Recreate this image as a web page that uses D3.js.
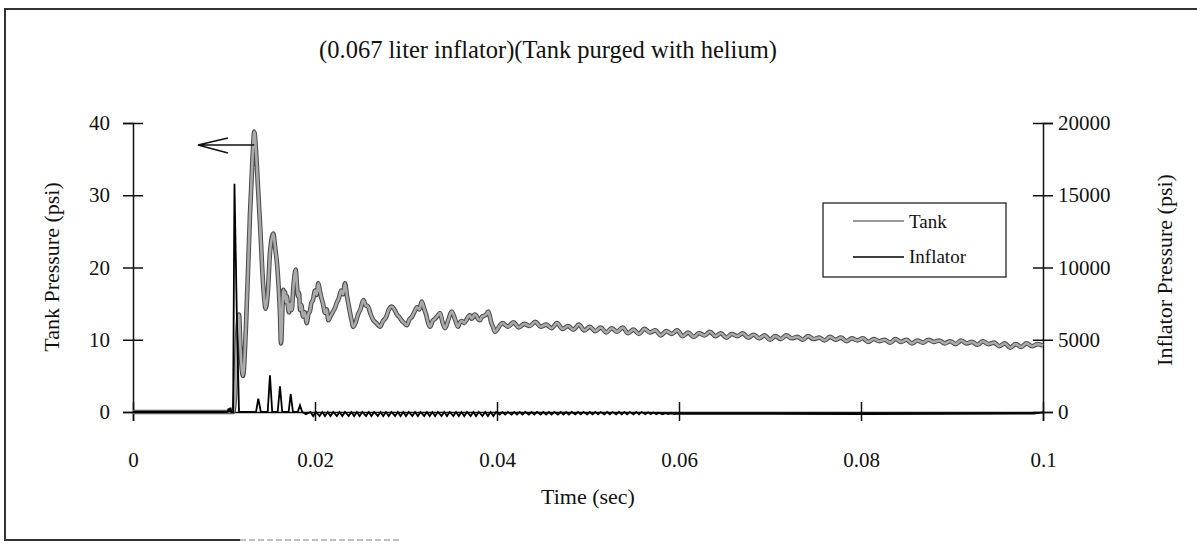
<!DOCTYPE html>
<html>
<head>
<meta charset="utf-8">
<script src="https://d3js.org/d3.v7.min.js"></script>
<style>
  body { margin: 0; background: #fff; }
  text { font-family: "Liberation Serif", "Times New Roman", serif; fill: #111; }
  .axis path, .axis line { stroke: #111; stroke-width: 1.5; }
  .axis text { font-size: 21px; }
</style>
</head>
<body>
<script>
// tick values and labels
var timeTicks = [0, 0.02, 0.04, 0.06, 0.08, 0.1];
var timeTickLabels = ["0", "0.02", "0.04", "0.06", "0.08", "0.1"];
var tankTicks = [0, 10, 20, 30, 40];
var inflatorTicks = [0, 5000, 10000, 15000, 20000];

// tank pressure (psi): [time (sec), psi]
var tankSeries = [
    [0, 0], [0.0110, 0], [0.0112, 2], [0.01143, 10], [0.01165, 13.5], [0.0118, 9],
    [0.01209, 5], [0.01242, 12], [0.01286, 27.5], [0.01313, 35], [0.01333, 38.8], [0.01352, 36],
    [0.01374, 31], [0.01396, 26], [0.01432, 17.3], [0.01458, 14.3], [0.01484, 17], [0.01505, 22],
    [0.01542, 24.7], [0.0156, 23], [0.01586, 20], [0.01615, 13.7], [0.01626, 9.5], [0.01652, 16.9],
    [0.0166, 15.8], [0.0167, 16.6], [0.0168, 15.2], [0.01692, 16], [0.01703, 14.6], [0.01714, 13.8],
    [0.01728, 15], [0.01744, 14.1], [0.01764, 17.5], [0.01788, 19.7], [0.018, 17.8], [0.01813, 16],
    [0.01825, 16.5], [0.01835, 14.1], [0.0185, 14.8], [0.01868, 13.2], [0.01888, 13.8], [0.01909, 12.3],
    [0.01928, 13.6], [0.01945, 14], [0.0196, 15.1], [0.01978, 15.5], [0.02, 16.8], [0.02018, 16.2],
    [0.02036, 17.8], [0.02052, 16.9], [0.02066, 16], [0.02088, 15], [0.0211, 13.7], [0.02128, 14.2],
    [0.02146, 12.7], [0.02172, 13.3], [0.02198, 13.9], [0.0222, 14.4], [0.02242, 15.2], [0.02264, 15.8],
    [0.02286, 16.8], [0.02308, 16.3], [0.0233, 17.8], [0.02352, 16], [0.02374, 14.5], [0.02398, 12.9],
    [0.02421, 11.8], [0.02447, 12.4], [0.02473, 13.5], [0.02502, 14.3], [0.02531, 15.5], [0.02556, 14.8],
    [0.02582, 14.6], [0.0261, 13.6], [0.02637, 12.8], [0.02675, 12.3], [0.02714, 11.8], [0.02747, 12.6],
    [0.0278, 13.1], [0.02812, 14.2], [0.02843, 14.6], [0.02872, 14.2], [0.02901, 13.5], [0.02928, 13.1],
    [0.02956, 12.6], [0.02982, 12.3], [0.03008, 12], [0.03037, 12.8], [0.03066, 13.2], [0.03094, 13.9],
    [0.03121, 14.5], [0.03147, 14.2], [0.03173, 15.3], [0.03197, 14.4], [0.0322, 13.5], [0.03242, 12.4],
    [0.03264, 11.8], [0.03292, 12.6], [0.03319, 12.9], [0.03346, 13.3], [0.03374, 13.7], [0.034, 12.5],
    [0.03429, 11.6], [0.03466, 12.8], [0.03502, 13.9], [0.03537, 12.9], [0.03571, 11.8], [0.03592, 12.4],
    [0.03615, 12.6], [0.0364, 12.3], [0.03667, 12.8], [0.03684, 13.2], [0.03703, 13.4], [0.0372, 12.9],
    [0.03736, 13.1], [0.03752, 13.5], [0.03769, 13.4], [0.0379, 12.9], [0.03813, 12.7], [0.03835, 13.2],
    [0.03857, 13.3], [0.03882, 13.5], [0.03904, 13.9], [0.03918, 13.4], [0.03934, 12.5], [0.03956, 11.8],
    [0.03978, 11.1],
    [0.0400, 11.4], [0.0406, 12.3], [0.0412, 11.8], [0.0418, 12.4], [0.0424, 11.7], [0.0430, 12.2],
    [0.0436, 11.9], [0.0442, 12.5], [0.0448, 11.8], [0.0454, 12.1], [0.0460, 11.6], [0.0466, 12.3],
    [0.0472, 11.5], [0.0478, 11.9], [0.0484, 11.4], [0.0490, 12.1], [0.0496, 11.3], [0.0502, 11.8],
    [0.0508, 11.2], [0.0514, 11.7], [0.0520, 11.0], [0.0526, 11.6], [0.0532, 11.1], [0.0538, 11.7],
    [0.0544, 10.9], [0.0550, 11.4], [0.0556, 10.8], [0.0562, 11.5], [0.0568, 11.0], [0.0574, 11.3],
    [0.0580, 10.6], [0.0586, 11.2], [0.0592, 10.8], [0.0598, 11.3], [0.0604, 10.5], [0.0610, 11.0],
    [0.0616, 10.4], [0.0622, 10.9], [0.0628, 10.6], [0.0634, 11.1], [0.0640, 10.5], [0.0646, 10.9],
    [0.0652, 10.3], [0.0658, 10.8], [0.0664, 10.5], [0.0670, 10.9], [0.0676, 10.3], [0.0682, 10.7],
    [0.0688, 10.2], [0.0694, 10.6], [0.0700, 10.0], [0.0706, 10.5], [0.0712, 10.1], [0.0718, 10.6],
    [0.0724, 10.2], [0.0730, 10.4], [0.0736, 10.0], [0.0742, 10.5], [0.0748, 10.1], [0.0754, 10.3],
    [0.0760, 9.9], [0.0766, 10.4], [0.0772, 10.0], [0.0778, 10.3], [0.0784, 9.8], [0.0790, 10.2],
    [0.0796, 9.9], [0.0802, 10.2], [0.0808, 9.7], [0.0814, 10.1], [0.0820, 9.8], [0.0826, 10.0],
    [0.0832, 9.6], [0.0838, 10.1], [0.0844, 9.7], [0.0850, 10.0], [0.0856, 9.5], [0.0862, 9.9],
    [0.0868, 9.6], [0.0874, 10.0], [0.0880, 9.7], [0.0886, 9.9], [0.0892, 9.5], [0.0898, 9.8],
    [0.0904, 9.4], [0.0910, 9.9], [0.0916, 9.5], [0.0922, 9.7], [0.0928, 9.3], [0.0934, 9.8],
    [0.0940, 9.4], [0.0946, 9.6], [0.0952, 9.1], [0.0958, 9.5], [0.0964, 8.9], [0.0970, 9.4],
    [0.0976, 9.0], [0.0982, 9.5], [0.0988, 9.1], [0.0994, 9.4], [0.1000, 9.2]
];

// inflator pressure (psi): [time (sec), psi]
var inflatorSeries = [
    [0, 0], [0.0104, 0], [0.0105, 250], [0.0106, 0], [0.0107, 300], [0.0108, 0],
    [0.0110, 0], [0.01115, 15800], [0.0114, 7000], [0.01165, 0],
    [0.01352, 0], [0.01377, 930], [0.01405, 0],
    [0.0148, 0], [0.01505, 2540], [0.0153, 0],
    [0.0159, 0], [0.01615, 1780], [0.0164, 0],
    [0.0171, 0], [0.01733, 1230], [0.01758, 0],
    [0.0181, 0], [0.01835, 470], [0.0186, 0],
    [0.0190, -150], [0.0195, 0],
    [0.0198, -280], [0.0201, 0], [0.0205, -280], [0.0208, 0], [0.0211, -280], [0.0214, 0],
    [0.0217, -280], [0.0220, 0], [0.0224, -280], [0.0227, 0], [0.0230, -280], [0.0233, 0],
    [0.0237, -280], [0.0240, 0], [0.0243, -280], [0.0246, 0], [0.0249, -280], [0.0252, 0],
    [0.0256, -280], [0.0259, 0], [0.0262, -280], [0.0265, 0], [0.0269, -280], [0.0272, 0],
    [0.0275, -280], [0.0278, 0], [0.0281, -280], [0.0284, 0], [0.0288, -280], [0.0291, 0],
    [0.0294, -280], [0.0297, 0], [0.0300, -280], [0.0303, 0], [0.0307, -280], [0.0310, 0],
    [0.0313, -280], [0.0316, 0], [0.0320, -280], [0.0323, 0], [0.0326, -280], [0.0329, 0],
    [0.0332, -280], [0.0335, 0], [0.0339, -280], [0.0342, 0], [0.0345, -280], [0.0348, 0],
    [0.0352, -280], [0.0355, 0], [0.0358, -280], [0.0361, 0], [0.0364, -280], [0.0367, 0],
    [0.0371, -280], [0.0374, 0], [0.0377, -280], [0.0380, 0], [0.0384, -280], [0.0387, 0],
    [0.0390, -280], [0.0393, 0], [0.0396, -280], [0.0399, 0], [0.0403, -180], [0.0406, 0],
    [0.0409, -180], [0.0412, 0], [0.0416, -180], [0.0419, 0], [0.0422, -180], [0.0425, 0],
    [0.0428, -180], [0.0431, 0], [0.0435, -180], [0.0438, 0], [0.0441, -180], [0.0444, 0],
    [0.0448, -180], [0.0451, 0], [0.0454, -180], [0.0457, 0], [0.0460, -180], [0.0463, 0],
    [0.0467, -180], [0.0470, 0], [0.0473, -180], [0.0476, 0], [0.0479, -180], [0.0482, 0],
    [0.0486, -160], [0.0489, 0], [0.0492, -160], [0.0495, 0], [0.0499, -160], [0.0502, 0],
    [0.0505, -160], [0.0508, 0], [0.0511, -160], [0.0514, 0], [0.0518, -160], [0.0521, 0],
    [0.0524, -160], [0.0527, 0], [0.0531, -160], [0.0534, 0], [0.0537, -160], [0.0540, 0],
    [0.0543, -160], [0.0546, 0], [0.0550, -160], [0.0553, 0], [0.0556, -160], [0.0559, 0],
    [0.0563, -150], [0.0566, -20], [0.0569, -150], [0.0572, -40], [0.0575, -150], [0.0578, -60],
    [0.0582, -150], [0.0585, -80], [0.0588, -140], [0.0591, -100], [0.0595, -140], [0.0598, -110],
    [0.0604, -130], [0.0700, -130], [0.0800, -140], [0.0900, -130], [0.0990, -110], [0.1000, -30]
];

window.onload = function(){
    var w = 1197, h = 550;
    var margin = {left: 133, right: 1043, top: 123, bottom: 412};

    var svg = d3.select("body")
        .append("svg")
        .attr("width", w)
        .attr("height", h);

    // scanned frame around the chart
    svg.append("path")
        .attr("d", "M1197,9 L5,9 L5,540 L240,540")
        .attr("fill", "none")
        .attr("stroke", "#333")
        .attr("stroke-width", 2);
    svg.append("line")
        .attr("x1", 240).attr("x2", 400)
        .attr("y1", 540).attr("y2", 540)
        .attr("stroke", "#aaa")
        .attr("stroke-width", 1.5)
        .attr("stroke-dasharray", "6,3");

    // scales
    var x = d3.scaleLinear().domain([0, 0.1]).range([margin.left, margin.right]);
    var yTank = d3.scaleLinear().domain([0, 40]).range([margin.bottom, margin.top]);
    var yInfl = d3.scaleLinear().domain([0, 20000]).range([margin.bottom, margin.top]);

    // axes with ticks crossing the line
    var xAxis = svg.append("g")
        .attr("class", "axis")
        .attr("transform", "translate(0," + margin.bottom + ")")
        .call(d3.axisBottom(x).tickValues(timeTicks)
            .tickFormat(function(d, i){ return timeTickLabels[i]; })
            .tickSizeOuter(0).tickSize(9).tickPadding(31));
    xAxis.selectAll(".tick line").attr("y1", -10).attr("y2", 9);

    var leftAxis = svg.append("g")
        .attr("class", "axis")
        .attr("transform", "translate(" + margin.left + ",0)")
        .call(d3.axisLeft(yTank).tickValues(tankTicks).tickSizeOuter(0).tickSize(10).tickPadding(13));
    leftAxis.selectAll(".tick line").attr("x1", -10).attr("x2", 10);

    var rightAxis = svg.append("g")
        .attr("class", "axis")
        .attr("transform", "translate(" + margin.right + ",0)")
        .call(d3.axisRight(yInfl).tickValues(inflatorTicks)
            .tickFormat(d3.format("d")).tickSizeOuter(0).tickSize(10).tickPadding(5));
    rightAxis.selectAll(".tick line").attr("x1", -10).attr("x2", 10);

    svg.selectAll(".axis .domain").attr("stroke-width", 1.5);

    // line generators
    var tankLine = d3.line()
        .x(function(d){ return x(d[0]); })
        .y(function(d){ return yTank(d[1]); })
        .curve(d3.curveMonotoneX);
    var inflLine = d3.line()
        .x(function(d){ return x(d[0]); })
        .y(function(d){ return yInfl(d[1]); });

    // tank: grey band with dark edges, like the scan
    svg.append("path")
        .datum(tankSeries)
        .attr("d", tankLine)
        .attr("fill", "none")
        .attr("stroke", "#4a4a4a")
        .attr("stroke-width", 4.6)
        .attr("stroke-linejoin", "round");
    svg.append("path")
        .datum(tankSeries)
        .attr("d", tankLine)
        .attr("fill", "none")
        .attr("stroke", "#aaaaaa")
        .attr("stroke-width", 2.6)
        .attr("stroke-linejoin", "round");

    svg.append("path")
        .datum(inflatorSeries)
        .attr("d", inflLine)
        .attr("fill", "none")
        .attr("stroke", "#000")
        .attr("stroke-width", 1.8);

    // arrow pointing at the left axis from the tank peak
    var peak = tankSeries[10];
    var ay = 145;
    svg.append("path")
        .attr("d", "M" + x(peak[0]) + "," + ay + " L198," + ay + " M228,138 L198," + ay + " L228,153")
        .attr("fill", "none")
        .attr("stroke", "#111")
        .attr("stroke-width", 1.6);

    // titles
    svg.append("text")
        .attr("x", 548).attr("y", 58)
        .attr("text-anchor", "middle")
        .style("font-size", "24.5px")
        .text("(0.067 liter inflator)(Tank purged with helium)");

    svg.append("text")
        .attr("x", (margin.left + margin.right) / 2).attr("y", 504)
        .attr("text-anchor", "middle")
        .style("font-size", "22px")
        .text("Time (sec)");

    svg.append("text")
        .attr("transform", "translate(59,267) rotate(-90)")
        .attr("text-anchor", "middle")
        .style("font-size", "22px")
        .text("Tank Pressure (psi)");

    svg.append("text")
        .attr("transform", "translate(1172,270) rotate(-90)")
        .attr("text-anchor", "middle")
        .style("font-size", "22px")
        .text("Inflator Pressure (psi)");

    // legend
    var legend = svg.append("g").attr("class", "legend");
    legend.append("rect")
        .attr("x", 823).attr("y", 203)
        .attr("width", 183).attr("height", 74)
        .attr("fill", "#fff")
        .attr("stroke", "#111")
        .attr("stroke-width", 1.2);
    legend.append("line")
        .attr("x1", 853).attr("x2", 904).attr("y1", 221).attr("y2", 221)
        .attr("stroke", "#999").attr("stroke-width", 2);
    legend.append("text")
        .attr("x", 909).attr("y", 228)
        .style("font-size", "19px")
        .text("Tank");
    legend.append("line")
        .attr("x1", 853).attr("x2", 904).attr("y1", 257).attr("y2", 257)
        .attr("stroke", "#000").attr("stroke-width", 1.5);
    legend.append("text")
        .attr("x", 909).attr("y", 263)
        .style("font-size", "19px")
        .text("Inflator");
};
</script>
</body>
</html>
